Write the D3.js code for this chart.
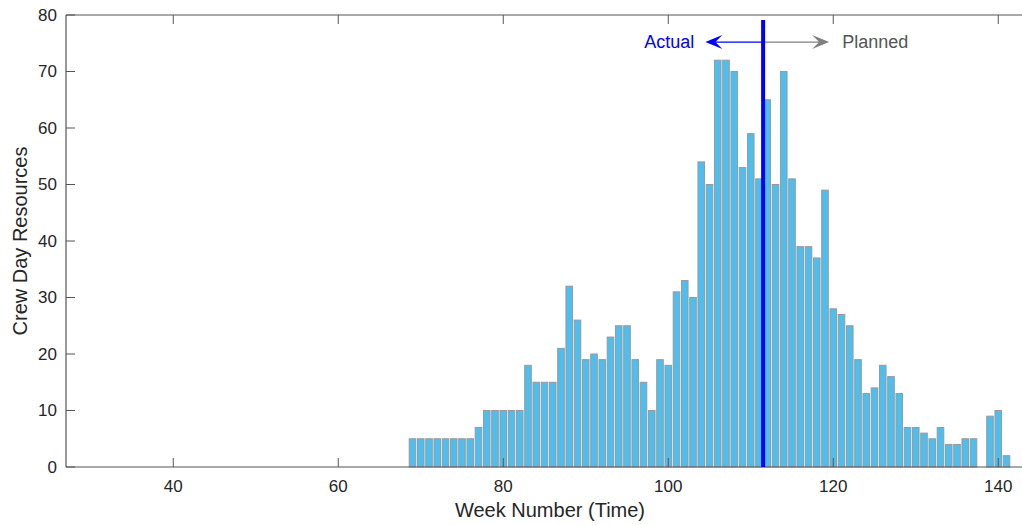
<!DOCTYPE html>
<html>
<head>
<meta charset="utf-8">
<script src="https://cdn.jsdelivr.net/npm/d3@7"></script>
<style>
    body { margin: 0; background: #fff; }
    svg text { font-family: "Liberation Sans", Arial, sans-serif; }
</style>
</head>
<body>
<div id="chart"></div>
<script>
const weeks = [
    69, 70, 71, 72, 73, 74, 75, 76, 77, 78, 79, 80, 81, 82, 83, 84, 85, 86, 87, 88,
    89, 90, 91, 92, 93, 94, 95, 96, 97, 98, 99, 100, 101, 102, 103, 104, 105, 106, 107, 108,
    109, 110, 111, 112, 113, 114, 115, 116, 117, 118, 119, 120, 121, 122, 123, 124, 125, 126, 127, 128,
    129, 130, 131, 132, 133, 134, 135, 136, 137, 138, 139, 140, 141
];
const crewDays = [
    5, 5, 5, 5, 5, 5, 5, 5, 7, 10, 10, 10, 10, 10, 18, 15, 15, 15, 21, 32,
    26, 19, 20, 19, 23, 25, 25, 19, 15, 10, 19, 18, 31, 33, 30, 54, 50, 72, 72, 70,
    53, 59, 51, 65, 50, 70, 51, 39, 39, 37, 49, 28, 27, 25, 19, 13, 14, 18, 16, 13,
    7, 7, 6, 5, 7, 4, 4, 5, 5, 0, 9, 10, 2
];
const xTicks = [40, 60, 80, 100, 120, 140];
const yTicks = [0, 10, 20, 30, 40, 50, 60, 70, 80];
const actualWeek = 111.5;
const arrowLevel = 75.2;
const arrowLeftWeek = 104.5;
const arrowRightWeek = 119.5;

const drawChart = function() {
    const width = 1022;
    const height = 525;
    const marginTop = 15;
    const marginLeft = 66;
    const plotRight = 1023;
    const plotBottom = 467;

    const x = d3.scaleLinear()
        .domain([27, 143])
        .range([marginLeft, plotRight]);

    const y = d3.scaleLinear()
        .domain([0, 80])
        .range([plotBottom, marginTop]);

    const svg = d3.create('svg')
        .attr('width', width)
        .attr('height', height)
        .attr('viewBox', [0, 0, width, height]);

    const step = x(1) - x(0);
    const barW = step * 0.8;

    // bars
    svg.append('g')
        .attr('fill', '#4DBEEE')
        .attr('stroke', '#9a9a9a')
        .attr('stroke-width', 1)
        .selectAll()
        .data(weeks.map((w, i) => ({ week: w, value: crewDays[i] })).filter(d => d.value > 0))
        .join('rect')
        .attr('x', d => x(d.week) - barW / 2)
        .attr('y', d => y(d.value))
        .attr('width', barW)
        .attr('height', d => y(0) - y(d.value));

    const axisColor = '#555';
    const tickLen = 9;

    // axes box lines
    svg.append('line')
        .attr('x1', marginLeft).attr('x2', plotRight)
        .attr('y1', plotBottom).attr('y2', plotBottom)
        .attr('stroke', axisColor).attr('stroke-width', 1.2);
    svg.append('line')
        .attr('x1', marginLeft).attr('x2', plotRight)
        .attr('y1', marginTop).attr('y2', marginTop)
        .attr('stroke', axisColor).attr('stroke-width', 1.2);
    svg.append('line')
        .attr('x1', marginLeft).attr('x2', marginLeft)
        .attr('y1', marginTop).attr('y2', plotBottom)
        .attr('stroke', axisColor).attr('stroke-width', 1.2);

    // x ticks (inward, top and bottom)
    const xt = svg.append('g');
    xTicks.forEach(t => {
        xt.append('line')
            .attr('x1', x(t)).attr('x2', x(t))
            .attr('y1', plotBottom).attr('y2', plotBottom - tickLen)
            .attr('stroke', axisColor);
        xt.append('line')
            .attr('x1', x(t)).attr('x2', x(t))
            .attr('y1', marginTop).attr('y2', marginTop + tickLen)
            .attr('stroke', axisColor);
        xt.append('text')
            .attr('x', x(t))
            .attr('y', 492)
            .attr('text-anchor', 'middle')
            .attr('fill', '#262626')
            .style('font-size', '17px')
            .text(t);
    });

    // y ticks
    const yt = svg.append('g');
    yTicks.forEach(t => {
        yt.append('line')
            .attr('x1', marginLeft).attr('x2', marginLeft + tickLen)
            .attr('y1', y(t)).attr('y2', y(t))
            .attr('stroke', axisColor);
        yt.append('text')
            .attr('x', 57)
            .attr('y', y(t))
            .attr('dy', '0.35em')
            .attr('text-anchor', 'end')
            .attr('fill', '#262626')
            .style('font-size', '17px')
            .text(t);
    });

    // axis labels
    svg.append('text')
        .attr('x', 550)
        .attr('y', 517)
        .attr('text-anchor', 'middle')
        .attr('fill', '#262626')
        .style('font-size', '20px')
        .text('Week Number (Time)');

    svg.append('text')
        .attr('transform', 'translate(27,241) rotate(-90)')
        .attr('text-anchor', 'middle')
        .attr('fill', '#262626')
        .style('font-size', '20px')
        .text('Crew Day Resources');

    // actual / planned annotation
    const xl = x(actualWeek);
    const ya = y(arrowLevel);

    const head = function(tipX, dir, color) {
        const len = 17, half = 7, notch = 7;
        const bx = tipX - dir * len;
        svg.append('path')
            .attr('d', `M${tipX},${ya} L${bx},${ya - half} L${bx + dir * notch},${ya} L${bx},${ya + half} Z`)
            .attr('fill', color);
    };

    svg.append('line')
        .attr('x1', xl).attr('x2', x(arrowRightWeek) - 8)
        .attr('y1', ya).attr('y2', ya)
        .attr('stroke', '#808080').attr('stroke-width', 1.3);
    head(x(arrowRightWeek), 1, '#808080');

    svg.append('line')
        .attr('x1', xl).attr('x2', x(arrowLeftWeek) + 8)
        .attr('y1', ya).attr('y2', ya)
        .attr('stroke', '#0000ff').attr('stroke-width', 1.3);
    head(x(arrowLeftWeek), -1, '#0000ff');

    svg.append('line')
        .attr('x1', xl).attr('x2', xl)
        .attr('y1', y(0)).attr('y2', y(79.1))
        .attr('stroke', '#0000ff')
        .attr('stroke-width', 4);

    svg.append('text')
        .attr('x', x(arrowLeftWeek) - 11)
        .attr('y', ya)
        .attr('dy', '0.35em')
        .attr('text-anchor', 'end')
        .attr('fill', '#0000ff')
        .style('font-size', '18px')
        .text('Actual');

    svg.append('text')
        .attr('x', x(arrowRightWeek) + 13)
        .attr('y', ya)
        .attr('dy', '0.35em')
        .attr('text-anchor', 'start')
        .attr('fill', '#555')
        .style('font-size', '18px')
        .text('Planned');

    document.getElementById('chart').append(svg.node());
};

document.addEventListener('DOMContentLoaded', drawChart);
</script>
</body>
</html>
